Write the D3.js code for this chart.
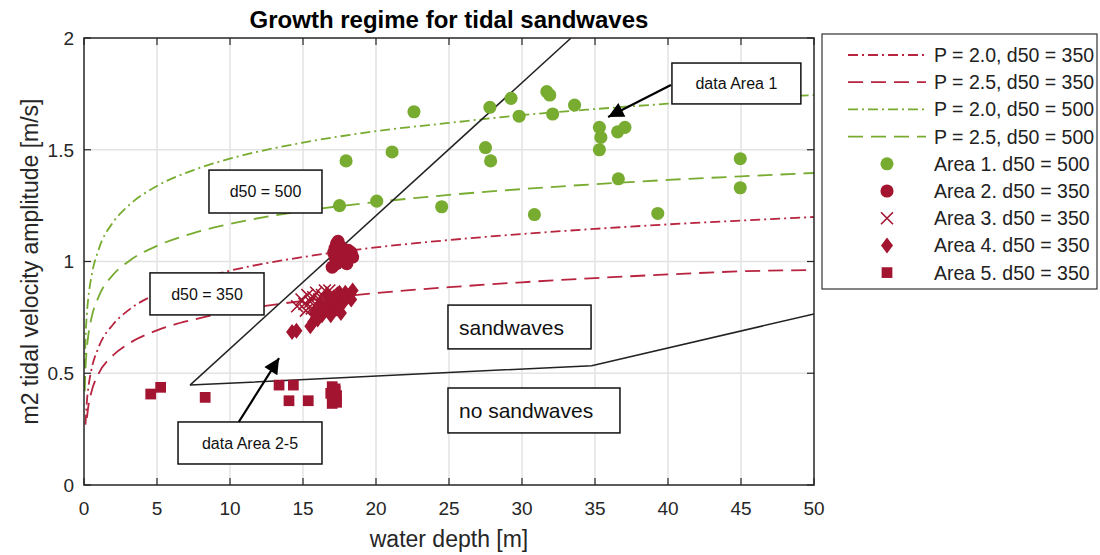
<!DOCTYPE html>
<html>
<head>
<meta charset="utf-8">
<script src="https://cdn.jsdelivr.net/npm/d3@7"></script>
<style>
  body { margin: 0; background: #fff; }
  text { font-family: "Liberation Sans", Arial, sans-serif; }
</style>
</head>
<body>
<svg class="chart"></svg>
<script>
// curve depths and velocities
var depths = [0.05, 0.1, 0.2, 0.3, 0.5, 1, 2, 3, 5, 7.5, 10, 15, 20, 25, 30, 35, 40, 45, 50];
var p20d350 = [null, 0.27, 0.376, 0.437, 0.513, 0.616, 0.719, 0.780, 0.856, 0.916, 0.959, 1.020, 1.063, 1.096, 1.123, 1.146, 1.166, 1.183, 1.199];
var p25d350 = [null, null, 0.30, 0.353, 0.414, 0.498, 0.581, 0.630, 0.692, 0.740, 0.775, 0.824, 0.859, 0.885, 0.907, 0.926, 0.942, 0.956, 0.962];
var p20d500 = [0.52, 0.646, 0.768, 0.840, 0.930, 1.053, 1.176, 1.247, 1.338, 1.409, 1.460, 1.532, 1.583, 1.620, 1.655, 1.682, 1.706, 1.726, 1.745];
var p25d500 = [0.42, 0.517, 0.614, 0.672, 0.744, 0.842, 0.941, 0.998, 1.070, 1.127, 1.168, 1.226, 1.266, 1.298, 1.324, 1.346, 1.365, 1.381, 1.396];

var area1 = [[17.5,1.25],[17.95,1.45],[20.05,1.27],[21.1,1.49],[22.6,1.67],[24.5,1.245],[27.5,1.51],[27.85,1.45],
  [27.8,1.69],[29.25,1.73],[29.8,1.65],[30.85,1.21],[31.7,1.76],[31.9,1.745],[32.1,1.66],[33.6,1.70],[35.3,1.60],
  [35.4,1.555],[35.3,1.50],[36.55,1.58],[37.05,1.60],[36.6,1.37],[39.3,1.215],[44.95,1.46],[44.95,1.33]];
var area2 = [[17.2,1.06],[17.3,1.08],[17.4,1.09],[17.5,1.07],[17.7,1.06],[17.9,1.05],[18.1,1.05],[18.3,1.04],
  [18.4,1.02],[17.2,1.02],[17.5,1.03],[17.8,1.01],[18.0,0.99],[17.3,0.99],[17.1,1.04],[17.0,0.975]];
var area3 = [[14.6,0.80],[14.9,0.83],[15.1,0.81],[15.3,0.85],[15.5,0.82],[15.7,0.84],[15.9,0.86],[16.1,0.83],
  [16.3,0.85],[16.5,0.87],[15.2,0.78],[15.6,0.79],[16.0,0.80],[16.8,0.87],[17.0,0.86]];
var area4 = [[14.25,0.685],[14.55,0.69],[15.5,0.71],[15.7,0.73],[15.9,0.75],[16.1,0.77],[16.3,0.76],[16.5,0.79],
  [16.8,0.80],[17.0,0.78],[17.2,0.82],[17.4,0.80],[17.6,0.83],[17.8,0.82],[18.0,0.84],[18.2,0.85],[18.4,0.87],
  [18.3,0.83],[17.1,0.84],[16.6,0.85],[17.5,0.86],[16.2,0.81],[17.6,0.77],[16.0,0.74],[16.4,0.78],[16.9,0.76],
  [17.3,0.79],[17.9,0.86],[16.8,0.83],[15.8,0.77]];
var area5 = [[4.57,0.407],[5.25,0.437],[8.3,0.392],[13.36,0.447],[14.34,0.447],[14.04,0.377],[15.36,0.377],
  [17.0,0.44],[17.2,0.43],[16.9,0.41],[17.3,0.40],[17.1,0.385],[17.0,0.365],[17.3,0.37],[17.2,0.42]];

// regime boundaries
var upperBound = [[7.26,0.447],[33.36,2.0]];
var lowerBound = [[7.26,0.447],[34.77,0.534],[50,0.765]];

var xTicks = [0,5,10,15,20,25,30,35,40,45,50];
var yTicks = [0,0.5,1,1.5,2];
var yTickLabels = ["0","0.5","1","1.5","2"];

var legendLabels = ["P = 2.0, d50 = 350","P = 2.5, d50 = 350","P = 2.0, d50 = 500","P = 2.5, d50 = 500",
  "Area 1. d50 = 500","Area 2. d50 = 350","Area 3. d50 = 350","Area 4. d50 = 350","Area 5. d50 = 350"];

// text boxes: [x0, y0, x1, y1] in data units
var notes = [
  {text:"d50 = 500", box:[8.56,1.409,16.3,1.217], size:16, align:"middle"},
  {text:"d50 = 350", box:[4.52,0.949,12.33,0.761], size:16, align:"middle"},
  {text:"data Area 1", box:[40.27,1.888,49.1,1.705], size:16, align:"middle"},
  {text:"data Area 2-5", box:[6.44,0.282,16.3,0.094], size:16, align:"middle"},
  {text:"sandwaves", box:[24.93,0.805,34.73,0.609], size:21, align:"start"},
  {text:"no sandwaves", box:[24.93,0.434,36.71,0.233], size:21, align:"start"}
];
var arrows = [
  [[40.2,1.79],[35.9,1.647]],
  [[10.6,0.282],[13.36,0.568]]
];

var width = 1100, height = 555;
var green = "#77AC30", red = "#A2142F", redLine = "#B8233F";

var svg = d3.select(".chart").attr("width", width).attr("height", height);

var x = d3.scaleLinear().domain([0,50]).range([84,814]);
var y = d3.scaleLinear().domain([0,2]).range([485,38]);

// grid
svg.append("g").selectAll("line").data(xTicks.slice(1,-1)).enter().append("line")
  .attr("x1", function(d){return x(d)}).attr("x2", function(d){return x(d)})
  .attr("y1", y(0)).attr("y2", y(2))
  .attr("stroke", "#e3e3e3").attr("stroke-width", 1.5);
svg.append("g").selectAll("line").data(yTicks.slice(1,-1)).enter().append("line")
  .attr("x1", x(0)).attr("x2", x(50))
  .attr("y1", function(d){return y(d)}).attr("y2", function(d){return y(d)})
  .attr("stroke", "#e3e3e3").attr("stroke-width", 1.5);

var plot = svg.append("g");
plot.append("clipPath").attr("id","clip").append("rect")
  .attr("x", x(0)).attr("y", y(2)).attr("width", x(50)-x(0)).attr("height", y(0)-y(2));

// curves
var curves = [
  {vals:p20d350, color:redLine, dash:"10,4,2,4"},
  {vals:p25d350, color:redLine, dash:"15,8"},
  {vals:p20d500, color:green, dash:"10,4,2,4"},
  {vals:p25d500, color:green, dash:"15,8"}
];
var line = d3.line()
  .defined(function(d){return d[1] != null})
  .x(function(d){return x(d[0])}).y(function(d){return y(d[1])})
  .curve(d3.curveMonotoneX);
plot.selectAll("path.curve").data(curves).enter().append("path")
  .attr("class","curve")
  .attr("clip-path","url(#clip)")
  .attr("d", function(c){ return line(depths.map(function(h,i){return [h, c.vals[i]]})) })
  .attr("fill","none").attr("stroke", function(c){return c.color})
  .attr("stroke-width", 1.8).attr("stroke-dasharray", function(c){return c.dash});

// boundaries
var straight = d3.line().x(function(d){return x(d[0])}).y(function(d){return y(d[1])});
plot.selectAll("path.bound").data([upperBound, lowerBound]).enter().append("path")
  .attr("class","bound").attr("clip-path","url(#clip)")
  .attr("d", straight).attr("fill","none").attr("stroke","#222").attr("stroke-width",1.5);

// markers
var sym = function(type, size){ return d3.symbol().type(type).size(size) };
function drawPoints(data, shape, color, isCross){
  plot.append("g").selectAll("path").data(data).enter().append("path")
    .attr("transform", function(d){return "translate(" + x(d[0]) + "," + y(d[1]) + ")"})
    .attr("d", shape)
    .attr("fill", isCross ? "none" : color)
    .attr("stroke", isCross ? color : "none")
    .attr("stroke-width", isCross ? 1.6 : 0);
}
var crossPath = "M-6,-6L6,6M-6,6L6,-6";
var diamondPath = "M0,-8L6,0L0,8L-6,0Z";
drawPoints(area1, sym(d3.symbolCircle, 135)(), green);
drawPoints(area2, sym(d3.symbolCircle, 135)(), red);
drawPoints(area3, crossPath, red, true);
drawPoints(area4, diamondPath, red);
drawPoints(area5, sym(d3.symbolSquare, 115)(), red);

// annotation boxes
var noteG = svg.append("g").selectAll("g").data(notes).enter().append("g");
noteG.append("rect")
  .attr("x", function(d){return x(d.box[0])}).attr("y", function(d){return y(d.box[1])})
  .attr("width", function(d){return x(d.box[2]) - x(d.box[0])})
  .attr("height", function(d){return y(d.box[3]) - y(d.box[1])})
  .attr("fill","#fff").attr("stroke","#111").attr("stroke-width",1.5);
noteG.append("text")
  .attr("x", function(d){ return d.align == "middle" ? (x(d.box[0]) + x(d.box[2]))/2 : x(d.box[0]) + 11 })
  .attr("y", function(d){ return (y(d.box[1]) + y(d.box[3]))/2 })
  .attr("dy", "0.36em")
  .attr("text-anchor", function(d){return d.align})
  .attr("font-size", function(d){return d.size + "px"})
  .attr("fill","#111")
  .text(function(d){return d.text});

// arrows
svg.append("defs").append("marker").attr("id","head")
  .attr("viewBox","0 0 10 10").attr("refX",10).attr("refY",5)
  .attr("markerWidth",8).attr("markerHeight",7).attr("markerUnits","strokeWidth")
  .attr("orient","auto")
  .append("path").attr("d","M0,0L10,5L0,10Z").attr("fill","#000");
svg.append("g").selectAll("line").data(arrows).enter().append("line")
  .attr("x1", function(d){return x(d[0][0])}).attr("y1", function(d){return y(d[0][1])})
  .attr("x2", function(d){return x(d[1][0])}).attr("y2", function(d){return y(d[1][1])})
  .attr("stroke","#000").attr("stroke-width",2.2).attr("marker-end","url(#head)");

// axes box and ticks
var axisColor = "#262626";
svg.append("rect").attr("x", x(0)).attr("y", y(2)).attr("width", x(50)-x(0)).attr("height", y(0)-y(2))
  .attr("fill","none").attr("stroke", axisColor).attr("stroke-width",1.5);
var tl = 7;
svg.append("g").selectAll("line").data(xTicks).enter().append("line")
  .attr("x1", function(d){return x(d)}).attr("x2", function(d){return x(d)})
  .attr("y1", y(0)).attr("y2", y(0)-tl).attr("stroke", axisColor).attr("stroke-width",1.2);
svg.append("g").selectAll("line").data(xTicks).enter().append("line")
  .attr("x1", function(d){return x(d)}).attr("x2", function(d){return x(d)})
  .attr("y1", y(2)).attr("y2", y(2)+tl).attr("stroke", axisColor).attr("stroke-width",1.2);
svg.append("g").selectAll("line").data(yTicks).enter().append("line")
  .attr("x1", x(0)).attr("x2", x(0)+tl)
  .attr("y1", function(d){return y(d)}).attr("y2", function(d){return y(d)})
  .attr("stroke", axisColor).attr("stroke-width",1.2);
svg.append("g").selectAll("line").data(yTicks).enter().append("line")
  .attr("x1", x(50)).attr("x2", x(50)-tl)
  .attr("y1", function(d){return y(d)}).attr("y2", function(d){return y(d)})
  .attr("stroke", axisColor).attr("stroke-width",1.2);

svg.append("g").selectAll("text").data(xTicks).enter().append("text")
  .attr("x", function(d){return x(d)}).attr("y", y(0) + 30)
  .attr("text-anchor","middle").attr("font-size","19px").attr("fill", axisColor)
  .text(function(d){return d});
svg.append("g").selectAll("text").data(yTicks).enter().append("text")
  .attr("x", x(0) - 10).attr("y", function(d){return y(d)}).attr("dy","0.36em")
  .attr("text-anchor","end").attr("font-size","19px").attr("fill", axisColor)
  .text(function(d,i){return yTickLabels[i]});

// labels
svg.append("text").attr("x", (x(0)+x(50))/2).attr("y", 547)
  .attr("text-anchor","middle").attr("font-size","23px").attr("fill", axisColor)
  .text("water depth [m]");
svg.append("text").attr("transform","translate(38," + (y(0)+y(2))/2 + ") rotate(-90)")
  .attr("text-anchor","middle").attr("font-size","23px").attr("fill", axisColor)
  .text("m2 tidal velocity amplitude [m/s]");
svg.append("text").attr("x", (x(0)+x(50))/2).attr("y", 28)
  .attr("text-anchor","middle").attr("font-size","24px").attr("font-weight","bold").attr("fill","#000")
  .text("Growth regime for tidal sandwaves");

// legend
var lg = svg.append("g");
lg.append("rect").attr("x",822).attr("y",34).attr("width",275).attr("height",255)
  .attr("fill","#fff").attr("stroke","#333").attr("stroke-width",1.2);
var rowY = function(i){ return 55 + i*27.2 };
var items = lg.selectAll("g.item").data(legendLabels).enter().append("g").attr("class","item");
items.append("text").attr("x", 934).attr("y", function(d,i){return rowY(i)}).attr("dy","0.36em")
  .attr("font-size","19.5px").attr("fill","#222").text(function(d){return d});
curves.forEach(function(c,i){
  lg.append("line").attr("x1",848).attr("x2",926).attr("y1",rowY(i)).attr("y2",rowY(i))
    .attr("stroke",c.color).attr("stroke-width",1.8).attr("stroke-dasharray",c.dash);
});
var legMarks = [
  {d:sym(d3.symbolCircle,135)(), c:green, cross:false},
  {d:sym(d3.symbolCircle,135)(), c:red, cross:false},
  {d:crossPath, c:red, cross:true},
  {d:diamondPath, c:red, cross:false},
  {d:sym(d3.symbolSquare,115)(), c:red, cross:false}
];
legMarks.forEach(function(m,i){
  lg.append("path").attr("transform","translate(887," + rowY(i+4) + ")").attr("d", m.d)
    .attr("fill", m.cross ? "none" : m.c).attr("stroke", m.cross ? m.c : "none").attr("stroke-width",1.6);
});
</script>
</body>
</html>
